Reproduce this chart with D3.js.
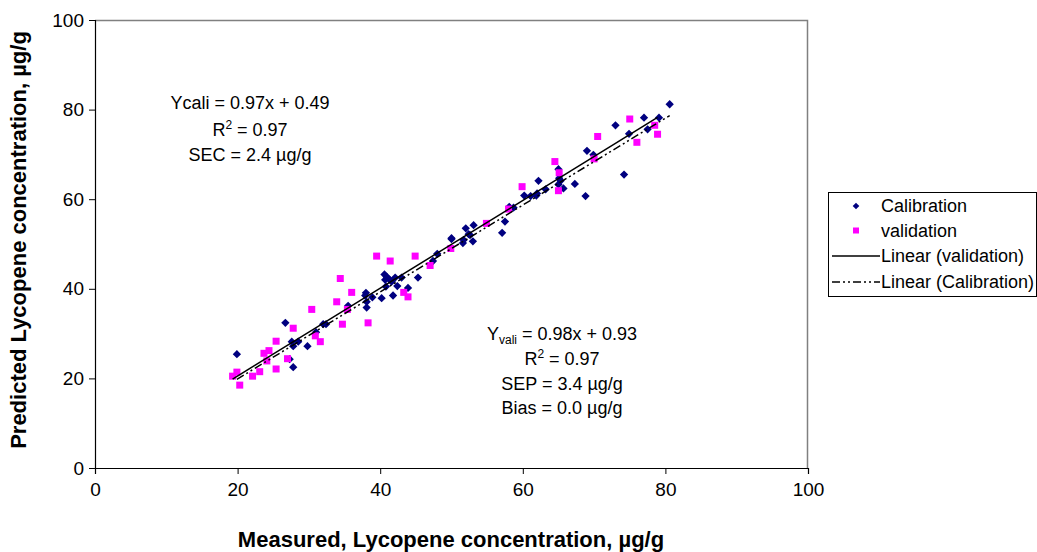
<!DOCTYPE html>
<html>
<head>
<meta charset="utf-8">
<script src="https://cdn.jsdelivr.net/npm/d3@7"></script>
<style>
  body { margin: 0; background: #fff; }
  svg text { font-family: "Liberation Sans", Arial, sans-serif; fill: #000; }
</style>
</head>
<body>
<div id="graphicContainer"></div>
<script>
// calibration set (measured, predicted)
var calX = [26.7, 19.9, 27.6, 28.5, 27.8, 29.8, 27.3, 27.8, 31.0, 32.0, 32.4,
  50.0, 48.0, 47.4, 45.3, 40.6, 40.9, 40.7, 41.3, 42.1, 43.0, 41.6, 40.8, 42.4, 43.9, 41.8, 40.2, 38.9, 38.0, 37.9, 38.1, 38.1, 35.5,
  62.2, 65.0, 65.1, 65.0, 65.3, 65.7, 67.3, 68.8, 63.2, 61.9, 62.0, 61.1, 60.2, 58.1, 58.7, 57.5, 57.1, 53.1, 52.0, 52.4, 52.6, 50.0, 51.7, 51.6, 53.0,
  80.6, 77.0, 79.1, 73.0, 77.5, 74.9, 69.0, 69.9, 74.2];
var calY = [32.4, 25.4, 28.2, 28.2, 27.2, 27.2, 24.3, 22.5, 30.3, 32.1, 32.1,
  51.3, 47.8, 46.2, 42.5, 43.2, 42.7, 42.0, 42.1, 42.5, 42.5, 41.6, 40.5, 40.6, 40.2, 38.5, 37.9, 38.1, 39.1, 38.5, 37.1, 35.8, 36.2,
  64.1, 66.7, 64.7, 63.3, 64.1, 62.4, 63.4, 60.7, 62.2, 60.8, 61.3, 60.7, 60.8, 58.3, 58.1, 55.0, 52.5, 54.2, 53.5, 52.2, 52.0, 51.1, 50.9, 50.2, 50.6,
  81.2, 78.2, 78.2, 76.5, 75.6, 74.6, 70.8, 69.9, 65.5];

// validation set (measured, predicted)
var valX = [30.4, 33.9, 27.8, 25.4, 23.7, 24.4, 24.1, 27.0, 30.9, 31.6, 25.4, 23.1, 22.1, 19.9, 19.3, 20.3,
  39.5, 41.4, 44.9, 47.0, 49.9, 34.4, 36.0, 35.4, 43.3, 43.9, 38.3, 34.7,
  64.5, 65.1, 65.0, 59.9, 58.0, 54.9,
  75.0, 78.5, 78.9, 76.0, 70.5, 70.0];
var valY = [35.4, 37.1, 31.2, 28.3, 25.6, 26.2, 23.9, 24.4, 29.5, 28.2, 22.1, 21.5, 20.5, 21.4, 20.5, 18.5,
  47.3, 46.2, 47.3, 45.2, 49.0, 42.3, 39.2, 35.4, 39.2, 38.2, 32.4, 32.1,
  68.4, 65.9, 61.9, 62.8, 57.8, 54.6,
  77.9, 76.5, 74.5, 72.7, 74.0, 69.0];

// trendline coefficients [slope, intercept]
var calFit = [0.97, 0.49];
var valFit = [0.98, 0.93];

var xTicks = [0, 20, 40, 60, 80, 100];
var yTicks = [0, 20, 40, 60, 80, 100];

var legendLabels = ["Calibration", "validation", "Linear (validation)", "Linear (Calibration)"];

var width = 1037, height = 552;
var margin = { top: 20, right: 229, bottom: 84, left: 95 };
var w = width - margin.left - margin.right,
    h = height - margin.top - margin.bottom;

var svg = d3.select("#graphicContainer").append("svg")
  .attr("width", width).attr("height", height);
svg.append("rect").attr("width", width).attr("height", height).attr("fill", "#fff");

var g = svg.append("g").attr("transform", "translate(" + margin.left + "," + margin.top + ")");

var x = d3.scaleLinear().domain([0, 100]).range([0, w]);
var y = d3.scaleLinear().domain([0, 100]).range([h, 0]);

// plot area border (top & right gray)
g.append("path").attr("d", "M0,0.5H" + (w - 0.5) + "V" + h)
  .attr("fill", "none").attr("stroke", "#808080").attr("stroke-width", 1.5);

var xAxis = d3.axisBottom(x).tickValues(xTicks).tickSize(6).tickPadding(9).tickFormat(d3.format("d"));
var yAxis = d3.axisLeft(y).tickValues(yTicks).tickSize(6).tickPadding(5).tickFormat(d3.format("d"));

var gx = g.append("g").attr("transform", "translate(0," + h + ")").call(xAxis);
var gy = g.append("g").call(yAxis);
[gx, gy].forEach(function (a) {
  a.select(".domain").attr("stroke", "#000").attr("stroke-width", 1.2);
  a.selectAll(".tick line").attr("stroke", "#000");
  a.selectAll(".tick text").style("font-size", "19px").attr("fill", "#000");
});

var calData = calX.map(function (d, i) { return { x: d, y: calY[i] }; });
var valData = valX.map(function (d, i) { return { x: d, y: valY[i] }; });

// calibration points (diamonds)
var diamond = d3.symbol().type(d3.symbolDiamond2).size(44);
g.selectAll(".cal").data(calData).enter().append("path")
  .attr("class", "cal")
  .attr("d", diamond)
  .attr("transform", function (d) { return "translate(" + x(d.x) + "," + y(d.y) + ")"; })
  .attr("fill", "#000080");

// validation points (squares)
g.selectAll(".val").data(valData).enter().append("rect")
  .attr("class", "val")
  .attr("x", function (d) { return x(d.x) - 3.5; })
  .attr("y", function (d) { return y(d.y) - 3.5; })
  .attr("width", 7).attr("height", 7)
  .attr("fill", "#ff00ff");

// trendlines
function fitLine(xs, fit) {
  var ext = d3.extent(xs);
  return ext.map(function (v) { return [x(v), y(fit[0] * v + fit[1])]; });
}
var line = d3.line();
g.append("path").attr("d", line(fitLine(calX, calFit)))
  .attr("fill", "none").attr("stroke", "#000").attr("stroke-width", 1.5)
  .attr("stroke-dasharray", "8,3,2,3,2,3");
g.append("path").attr("d", line(fitLine(valX, valFit)))
  .attr("fill", "none").attr("stroke", "#000").attr("stroke-width", 1.5);

// annotations
var ann1 = svg.append("text").attr("text-anchor", "middle").style("font-size", "18px");
ann1.append("tspan").attr("x", 250).attr("y", 109).text("Ycali = 0.97x + 0.49");
var r1 = ann1.append("tspan").attr("x", 250).attr("y", 136);
r1.append("tspan").text("R");
r1.append("tspan").attr("dy", -7).style("font-size", "12px").text("2");
r1.append("tspan").attr("dy", 7).text(" = 0.97");
ann1.append("tspan").attr("x", 250).attr("y", 161).text("SEC = 2.4 \u00b5g/g");

var ann2 = svg.append("text").attr("text-anchor", "middle").style("font-size", "18px");
var v1 = ann2.append("tspan").attr("x", 562).attr("y", 340);
v1.append("tspan").text("Y");
v1.append("tspan").attr("dy", 4).style("font-size", "12px").text("vali");
v1.append("tspan").attr("dy", -4).text(" = 0.98x + 0.93");
var v2 = ann2.append("tspan").attr("x", 562).attr("y", 365);
v2.append("tspan").text("R");
v2.append("tspan").attr("dy", -7).style("font-size", "12px").text("2");
v2.append("tspan").attr("dy", 7).text(" = 0.97");
ann2.append("tspan").attr("x", 562).attr("y", 390).text("SEP = 3.4 \u00b5g/g");
ann2.append("tspan").attr("x", 562).attr("y", 414).text("Bias = 0.0 \u00b5g/g");

// axis titles
svg.append("text").attr("x", 451).attr("y", 547).attr("text-anchor", "middle")
  .style("font-size", "22px").style("font-weight", "bold")
  .text("Measured, Lycopene concentration, \u00b5g/g");
svg.append("text").attr("transform", "translate(26,240) rotate(-90)").attr("text-anchor", "middle")
  .style("font-size", "22px").style("font-weight", "bold")
  .text("Predicted Lycopene concentration, \u00b5g/g");

// legend
var lg = svg.append("g").attr("transform", "translate(828,192)");
lg.append("rect").attr("x", 0.5).attr("y", 0.5).attr("width", 208).attr("height", 104)
  .attr("fill", "#fff").attr("stroke", "#000");
var rowY = [14, 38.5, 64, 90];
lg.append("path").attr("d", d3.symbol().type(d3.symbolDiamond2).size(28))
  .attr("transform", "translate(28," + rowY[0] + ")").attr("fill", "#000080");
lg.append("rect").attr("x", 25).attr("y", rowY[1] - 3).attr("width", 6).attr("height", 6).attr("fill", "#ff00ff");
lg.append("line").attr("x1", 4).attr("x2", 52).attr("y1", rowY[2]).attr("y2", rowY[2])
  .attr("stroke", "#000").attr("stroke-width", 1.5);
lg.append("line").attr("x1", 4).attr("x2", 52).attr("y1", rowY[3]).attr("y2", rowY[3])
  .attr("stroke", "#000").attr("stroke-width", 1.5).attr("stroke-dasharray", "8,3,2,3,2,3");
lg.selectAll(".lt").data(legendLabels).enter().append("text")
  .attr("x", 53).attr("y", function (d, i) { return rowY[i] + 6; })
  .style("font-size", "18px").text(function (d) { return d; });
</script>
</body>
</html>
